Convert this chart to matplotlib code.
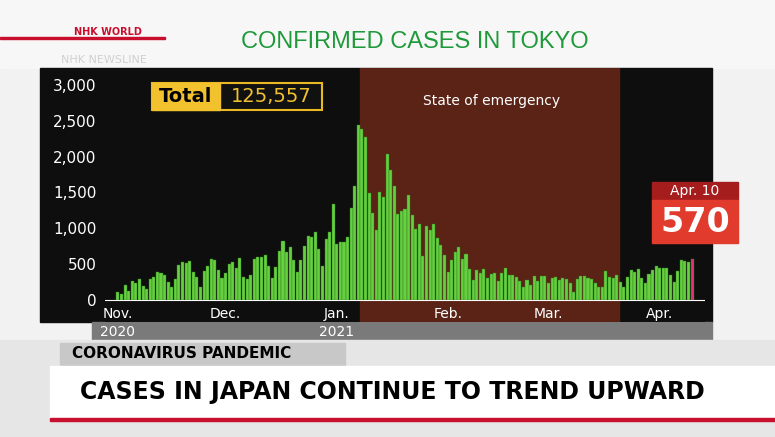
import matplotlib
matplotlib.use("Agg")
import matplotlib.pyplot as plt
from matplotlib.patches import Rectangle
import numpy as np

nov = [116,87,209,122,269,242,294,189,157,293,317,393,374,352,255,180,298,493,534,522,539,391,314,186,401,481,570,561,418,311]
dec = [372,500,533,449,584,327,299,352,572,602,595,621,480,305,460,678,822,664,736,556,392,563,748,888,884,949,708,481,856,944,1337]
jan = [783,814,816,884,1278,1591,2447,2392,2268,1494,1219,970,1502,1433,2044,1809,1592,1204,1240,1274,1471,1184,986,1056,618,1026,973,1064,868,769,633]
feb = [393,556,676,734,577,639,429,276,412,378,434,307,369,371,266,378,445,353,351,327,272,178,275,213,340,270,337,329]
mar = [232,302,316,279,301,293,237,116,290,340,335,304,293,239,175,175,409,323,303,342,256,187,316,420,394,430,313,234,364,414,475]
apr = [440,446,446,355,249,399,555,545,537,570]
cases = nov + dec + jan + feb + mar + apr
month_labels = ["Nov.", "Dec.", "Jan.", "Feb.", "Mar.", "Apr."]
month_starts = [0, 30, 61, 92, 120, 151]
year_labels = ["2020", "2021"]
yticks = [0, 500, 1000, 1500, 2000, 2500, 3000]
emergency = (68, 140)
total = "125,557"

W, H = 775, 437
fig = plt.figure(figsize=(W/100, H/100), dpi=100)
fig.patch.set_facecolor("#f2f2f2")

def box(x0, y0, x1, y1):
    return [x0/W, 1-y1/H, (x1-x0)/W, (y1-y0)/H]

def rect(x0, y0, x1, y1, z=-5, **kw):
    fig.patches.append(Rectangle((x0/W, 1-y1/H), (x1-x0)/W, (y1-y0)/H, transform=fig.transFigure, zorder=z, **kw))

def ftext(x, y, s, **kw):
    fig.text(x/W, 1-y/H, s, zorder=10, **kw)

# backgrounds
rect(0, 0, W, 68, color="#f7f7f7")
rect(40, 68, 712, 322, color="#0e0e0e")
rect(92, 322, 712, 340, color="#7a7a7a")
rect(0, 340, W, 437, color="#e6e6e6")

# header
ftext(415, 42, "CONFIRMED CASES IN TOKYO", color="#1f9a3a", fontsize=17, ha="center", va="center", family="Liberation Sans")
ftext(108, 32, "NHK WORLD", color="#c8102e", fontsize=7, fontweight="bold", ha="center", va="center")
rect(0, 37, 165, 39, color="#c8102e")
ftext(104, 60, "NHK NEWSLINE", color="#d0d0d0", fontsize=8, ha="center", va="center")

ax = fig.add_axes(box(105, 68, 705, 322))
ax.set_zorder(0)
ax.set_facecolor("#0e0e0e")
x = np.arange(len(cases))
ax.axvspan(emergency[0]-0.5, emergency[1]-0.5, color="#5a2316")
colors = ["#66d040"] * (len(cases)-1) + ["#e0307a"]
ax.bar(x, cases, width=0.85, color=colors, edgecolor="#2f7a1c", linewidth=0.3)
ax.set_xlim(-3.6, 163.6)
ax.set_ylim(-307, 3237)
for s in ax.spines.values():
    s.set_visible(False)
ax.set_xticks([])
ax.set_yticks(yticks)
ax.set_yticklabels([f"{v:,}" for v in yticks], color="white", fontsize=11)
ax.tick_params(axis="y", length=0, pad=6)
ax.axhline(0, color="white", lw=0.8)
ax.text((emergency[0]+emergency[1])/2, 2780, "State of emergency", color="white", fontsize=10, ha="center", va="center")
for m, p in zip(month_labels, month_starts):
    ax.text(p, -200, m, color="white", fontsize=10, ha="center", va="center")
ax.text(0, -445, year_labels[0], color="white", fontsize=10, ha="center", va="center", clip_on=False)
ax.text(61, -445, year_labels[1], color="white", fontsize=10, ha="center", va="center", clip_on=False)

# total box
rect(152, 83, 322, 110, z=5, facecolor="#111111", edgecolor="#e8b923", linewidth=1.5)
rect(152, 83, 220, 110, z=5, color="#f2c12e")
ftext(186, 97, "Total", color="black", fontsize=14, fontweight="bold", ha="center", va="center")
ftext(271, 97, total, color="#f2c12e", fontsize=14, ha="center", va="center")

# callout
rect(652, 182, 738, 200, z=5, color="#a51d1d")
rect(652, 200, 738, 243, z=5, color="#e03b2c")
ftext(695, 191, "Apr. 10", color="white", fontsize=10, ha="center", va="center")
ftext(695, 222, f"{cases[-1]}", color="white", fontsize=24, fontweight="bold", ha="center", va="center")

# lower bars
rect(60, 343, 345, 365, z=5, color="#c8c8c8")
ftext(72, 354, "CORONAVIRUS PANDEMIC", color="black", fontsize=11, fontweight="bold", va="center")
rect(50, 366, W, 420, z=5, color="white")
ftext(80, 392, "CASES IN JAPAN CONTINUE TO TREND UPWARD", color="black", fontsize=17, fontweight="bold", va="center")
rect(50, 418, W, 421, z=5, color="#c8102e")

fig.savefig("out.png", dpi=100, facecolor=fig.get_facecolor())
